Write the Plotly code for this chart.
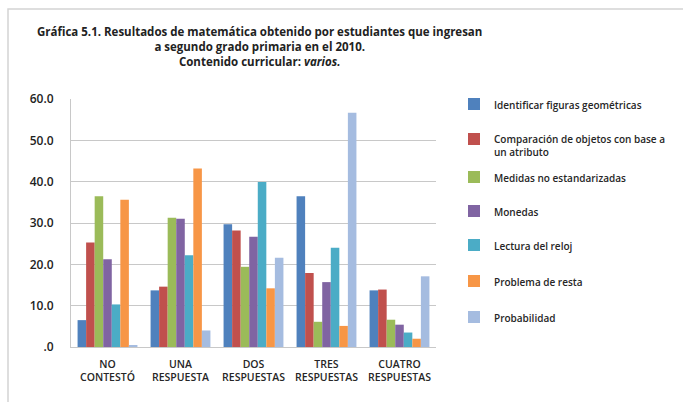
import plotly.graph_objects as go

categories = ["NO<br>CONTESTÓ", "UNA<br>RESPUESTA", "DOS<br>RESPUESTAS", "TRES<br>RESPUESTAS", "CUATRO<br>RESPUESTAS"]

series_names = [
    "Identificar figuras geométricas",
    "Comparación de objetos con base a<br>un atributo",
    "Medidas no estandarizadas",
    "Monedas",
    "Lectura del reloj",
    "Problema de resta",
    "Probabilidad",
]

identificar = [6.5, 13.7, 29.7, 36.5, 13.7]
comparacion = [25.3, 14.6, 28.2, 17.9, 13.9]
medidas = [36.5, 31.3, 19.4, 6.1, 6.6]
monedas = [21.2, 31.0, 26.7, 15.7, 5.4]
reloj = [10.3, 22.2, 39.9, 24.0, 3.5]
resta = [35.6, 43.2, 14.2, 5.1, 2.0]
probabilidad = [0.3, 4.0, 21.6, 56.7, 17.1]

series_values = [identificar, comparacion, medidas, monedas, reloj, resta, probabilidad]
colors = ["#4F81BD", "#C0504D", "#9BBB59", "#8064A2", "#4BACC6", "#F79646", "#A5BCE0"]

y_ticks = [0, 10, 20, 30, 40, 50, 60]
y_tick_labels = [".0", "10.0", "20.0", "30.0", "40.0", "50.0", "60.0"]

FONT = "Open Sans"
W, H = 683, 402
L, R, T, B = 71, 247, 99, 55
plot_h = H - T - B
plot_w = W - L - R

def py(p):
    return (H - B - p) / plot_h

def px(p):
    return (p - L) / plot_w

fig = go.Figure()
legend_y_px = [105, 140, 178, 212, 246, 282, 318]
layout_legends = {}
for i, (name, vals, col) in enumerate(zip(series_names, series_values, colors)):
    key = "legend" if i == 0 else f"legend{i+1}"
    fig.add_trace(go.Bar(
        x=categories, y=vals, name=name, marker_color=col,
        marker_line_width=0, legend=key,
    ))
    layout_legends[key] = dict(
        x=px(454), y=py(legend_y_px[i] - 14), xanchor="left", yanchor="top",
        font=dict(family=FONT, size=10, color="#262626", weight=600),
        bgcolor="rgba(0,0,0,0)", valign="top", itemwidth=30,
        tracegroupgap=0,
    )

fig.update_layout(
    width=W, height=H,
    margin=dict(l=L, r=R, t=T, b=B),
    paper_bgcolor="white", plot_bgcolor="white",
    barmode="group", bargap=0.18, bargroupgap=0,
    showlegend=True,
    font=dict(family=FONT, color="#333333"),
    **layout_legends,
)

fig.update_yaxes(
    range=[0, 60], tickvals=y_ticks, ticktext=y_tick_labels,
    showgrid=True, gridcolor="#c8c8c8", gridwidth=1,
    showline=True, linecolor="#c8c8c8", linewidth=1,
    zeroline=False, ticks="", ticklabelstandoff=14,
    tickfont=dict(family=FONT, size=12, color="#222222", weight=600),
)
fig.update_xaxes(
    showline=True, linecolor="#c8c8c8", linewidth=1,
    ticks="", showgrid=False,
    tickfont=dict(family=FONT, size=10.5, color="#262626", weight=600),
    ticklabelstandoff=7,
)

fig.add_annotation(
    text="<b>Gráfica 5.1. Resultados de matemática obtenido por estudiantes que ingresan<br>"
         "a segundo grado primaria en el 2010.<br>Contenido curricular: <i>varios.</i></b>",
    xref="paper", yref="paper", x=px(259), y=py(47), xanchor="center", yanchor="middle",
    showarrow=False, font=dict(family=FONT, size=11.5, color="#222222"), align="center",
)

fig.add_shape(
    type="rect", xref="paper", yref="paper",
    x0=px(8), y0=py(420), x1=px(720), y1=py(9),
    line=dict(color="#d4d4d4", width=1.5), layer="below",
)

fig.write_html("out.html")
